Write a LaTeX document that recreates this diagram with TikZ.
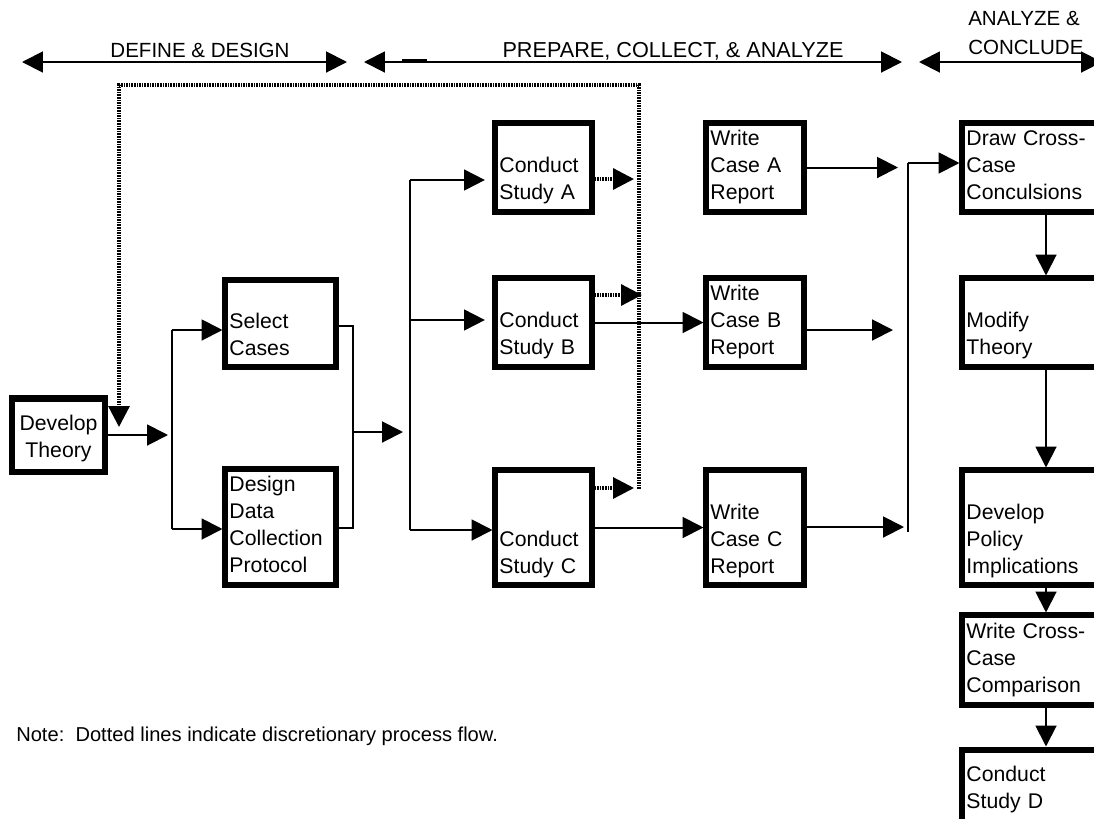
\documentclass[tikz,border=0pt]{standalone}
\usepackage{fontspec}
\setmainfont{Liberation Sans}
\usepackage{tikz}
\usetikzlibrary{arrows.meta, positioning}
\newcommand{\procfont}{\fontsize{15.1}{19.2}\selectfont}
\newcommand{\headfont}{\fontsize{14.6}{20.6}\selectfont}
\newcommand{\notefont}{\fontsize{14.3}{19.2}\selectfont}
\tikzset{
    procbox/.style={
        rectangle,
        draw=black,
        line width=0.15cm,
        inner xsep=0.1cm,
        inner ysep=0pt,
        align=left,
        font=\procfont,
        execute at begin node=\strut,
        execute at end node=\strut
    },
    startbox/.style={
        procbox,
        align=center,
        text width=2.1cm,
        minimum height=1.825cm
    },
    casebox/.style={
        procbox,
        text width=2.55cm
    },
    studybox/.style={
        procbox,
        text width=2.2cm
    },
    reportbox/.style={
        procbox,
        text width=2.225cm
    },
    crossbox/.style={
        procbox,
        text width=3.975cm
    },
    wire/.style={
        draw=black,
        line width=0.05cm
    },
    flow/.style={
        wire,
        -{Triangle[length=0.52cm, width=0.52cm]}
    },
    dotwire/.style={
        draw=black,
        line width=0.08cm,
        dash pattern=on 0.04cm off 0.025cm
    },
    dotflow/.style={
        dotwire,
        -{Triangle[length=0.52cm, width=0.52cm]}
    },
    phase/.style={
        wire,
        {Triangle[length=0.52cm, width=0.52cm]}-{Triangle[length=0.52cm, width=0.52cm]}
    },
    phaselabel/.style={
        font=\headfont,
        inner sep=0pt
    }
}

\begin{document}
\begin{tikzpicture}[x=0.025cm, y=-0.025cm]
\useasboundingbox (0,0) rectangle (1094,818);

% Phase arrows
\coordinate (defineL) at (22,62);
\coordinate (defineR) at (347,62);
\coordinate (prepareL) at (364,62);
\coordinate (prepareR) at (902,62);
\coordinate (concludeL) at (919,62);
\coordinate (concludeR) at (1102,62);
\draw[phase] (defineL) -- (defineR);
\draw[phase] (prepareL) -- (prepareR);
\draw[phase] (concludeL) -- (concludeR);
\draw[line width=0.1cm] (402,61) -- (427,61);
\node[phaselabel, anchor=base] (defineLbl) at (200,57) {DEFINE \& DESIGN};
\node[phaselabel, anchor=base, font=\fontsize{15.4}{20.6}\selectfont] (prepareLbl) at (673,57) {PREPARE, COLLECT, \& ANALYZE};
\node[phaselabel, align=left, anchor=north west, execute at begin node=\strut] (concludeLbl) at (968,11.5) {ANALYZE \&\\CONCLUDE};

% Define and design
\node[startbox] (theory) at (58.5,435) {\rule{0pt}{0.67cm}Develop\\Theory};
\node[casebox, minimum height=2.15cm] (select) at (280.5,323.5) {\\Select\\Cases};
\node[casebox, minimum height=2.875cm] (protocol) at (280.5,527) {Design\\Data\\Collection\\Protocol};

% Case studies
\node[studybox, minimum height=2.2cm] (studyA) at (543.5,167.5) {\\Conduct\\Study A};
\node[studybox, minimum height=2.2cm] (studyB) at (543.5,322.5) {\\Conduct\\Study B};
\node[studybox, minimum height=2.85cm] (studyC) at (543.5,527.5) {\\\mbox{}\\Conduct\\Study C};

% Case reports
\node[reportbox, minimum height=2.2cm] (reportA) at (755,167.5) {Write\\Case A\\Report};
\node[reportbox, minimum height=2.2cm] (reportB) at (755,322.5) {Write\\Case B\\Report};
\node[reportbox, minimum height=2.85cm] (reportC) at (755,527.5) {\\Write\\Case C\\Report};

% Cross-case column
\node[crossbox, minimum height=2.2cm] (conclude) at (1046,167.5) {Draw Cross-\\Case\\Conculsions};
\node[crossbox, minimum height=2.2cm] (modify) at (1046,322.5) {\\Modify\\Theory};
\node[crossbox, minimum height=2.85cm] (policy) at (1046,527.5) {\\Develop\\Policy\\Implications};
\node[crossbox, minimum height=2.225cm] (compare) at (1046,660) {Write Cross-\\Case\\Comparison};
\node[crossbox, minimum height=2.025cm] (studyD) at (1046,790) {Conduct\\Study D};

% Forks and joins
\coordinate (theoryOut) at (168,435);
\coordinate (forkAtop) at (172,330);
\coordinate (forkAbot) at (172,529);
\draw[flow] (theory) -- (theoryOut);
\draw[wire] (forkAtop) -- (forkAbot);
\draw[flow] (forkAtop) -- (forkAtop -| select.west);
\draw[flow] (forkAbot) -- (forkAbot -| protocol.west);

\coordinate (joinBtop) at (353,326);
\coordinate (joinBbot) at (353,528);
\coordinate (joinBmid) at (353,432);
\coordinate (joinBout) at (403,432);
\draw[wire] (joinBtop -| select.east) -- (joinBtop) -- (joinBbot) -- (joinBbot -| protocol.east);
\draw[flow] (joinBmid) -- (joinBout);

\coordinate (forkCtop) at (410,180);
\coordinate (forkCmid) at (410,320);
\coordinate (forkCbot) at (410,530);
\draw[wire] (forkCtop) -- (forkCbot);
\draw[flow, shorten >=0.19cm] (forkCtop) -- (forkCtop -| studyA.west);
\draw[flow, shorten >=0.19cm] (forkCmid) -- (forkCmid -| studyB.west);
\draw[flow] (forkCbot) -- (forkCbot -| studyC.west);

% Discretionary flow (dotted)
\coordinate (dotA) at (634,179);
\coordinate (dotB) at (642,295);
\coordinate (dotC) at (634,488);
\coordinate (dotbot) at (639,489);
\coordinate (dottop) at (639,85);
\coordinate (dotend) at (119,427);
\draw[dotflow] (dotA -| studyA.east) -- (dotA);
\draw[dotflow] (dotB -| studyB.east) -- (dotB);
\draw[dotflow] (dotC -| studyC.east) -- (dotC);
\draw[dotflow] (dotbot) -- (dottop) -| (dotend);

% Studies to reports
\draw[flow] (studyB) -- (reportB);
\draw[flow] (studyC) -- (reportC);

% Reports to cross-case
\coordinate (outA) at (898,167.5);
\coordinate (outB) at (893,330);
\coordinate (outC) at (904,527);
\draw[flow] (reportA) -- (outA);
\draw[flow] (outB -| reportB.east) -- (outB);
\draw[flow] (outC -| reportC.east) -- (outC);
\coordinate (joinDtop) at (908,163);
\coordinate (joinDbot) at (908,532);
\draw[wire] (joinDtop) -- (joinDbot);
\draw[flow] (joinDtop) -- (joinDtop -| conclude.west);

% Cross-case chain
\draw[flow] (conclude) -- (modify);
\draw[flow] (modify) -- (policy);
\draw[flow] (policy) -- (compare);
\draw[flow] (compare) -- (studyD);

% Note
\node[phaselabel, anchor=base west, font=\notefont] (note) at (16,741) {Note:\ \ Dotted lines indicate discretionary process flow.};

\end{tikzpicture}
\end{document}
